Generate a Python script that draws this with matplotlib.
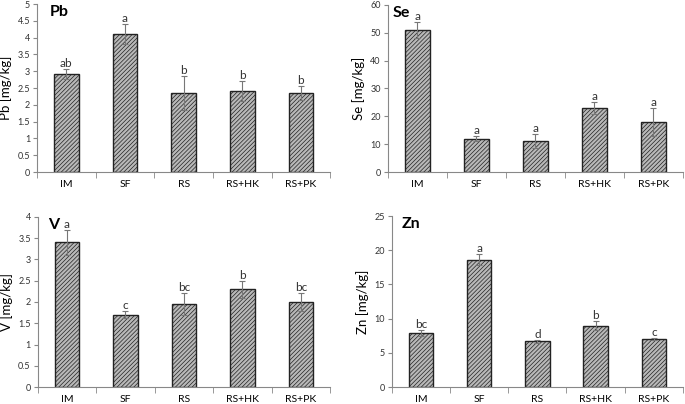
import numpy as np
import matplotlib.pyplot as plt

plt.rcParams['font.family'] = ['Lato', 'DejaVu Sans']
plt.rcParams['hatch.color'] = '#3a3a3a'
plt.rcParams['hatch.linewidth'] = 0.5

groups = ['IM', 'SF', 'RS', 'RS+HK', 'RS+PK']

pb_mean = [2.92, 4.10, 2.35, 2.42, 2.35]
pb_err = [0.15, 0.30, 0.50, 0.30, 0.20]
pb_let = ['ab', 'a', 'b', 'b', 'b']

se_mean = [51.0, 12.0, 11.3, 23.0, 18.0]
se_err = [3.0, 1.0, 2.5, 2.0, 5.0]
se_let = ['a', 'a', 'a', 'a', 'a']

v_mean = [3.40, 1.70, 1.95, 2.30, 2.00]
v_err = [0.30, 0.08, 0.25, 0.20, 0.22]
v_let = ['a', 'c', 'bc', 'b', 'bc']

zn_mean = [7.9, 18.6, 6.7, 9.0, 7.0]
zn_err = [0.4, 0.8, 0.2, 0.6, 0.1]
zn_let = ['bc', 'a', 'd', 'b', 'c']

panels = [
    ('Pb', pb_mean, pb_err, pb_let, 5, 0.5, [0.054, 0.574, 0.428, 0.416], 0.045),
    ('Se', se_mean, se_err, se_let, 60, 10, [0.566, 0.574, 0.431, 0.414], 0.018),
    ('V', v_mean, v_err, v_let, 4, 0.5, [0.055, 0.042, 0.427, 0.421], 0.035),
    ('Zn', zn_mean, zn_err, zn_let, 25, 5, [0.572, 0.042, 0.425, 0.423], 0.035),
]


def plotPanel(fig, name, mean, err, letters, ymax, step, rect, tx):
    ax = fig.add_axes(rect)
    x = np.arange(len(groups))
    ax.bar(x, mean, width=0.42, color='#b8b8b8', edgecolor='#222222',
           linewidth=1.0, hatch='////////', zorder=2)
    ax.errorbar(x, mean, yerr=err, fmt='none', ecolor='#777777',
                elinewidth=0.8, capsize=2, capthick=0.8, zorder=3)
    for xi, m, e, l in zip(x, mean, err, letters):
        ax.text(xi, m + e, l, ha='center', va='bottom', fontsize=8.5,
                color='#333333')
    ax.set_xlim(-0.5, len(groups) - 0.5)
    ax.set_ylim(0, ymax)
    ticks = np.arange(0, ymax + step / 2, step)
    ax.set_yticks(ticks)
    ax.set_yticklabels(['%g' % t for t in ticks], fontsize=6.5, color='#333333')
    ax.set_xticks(x)
    ax.set_xticklabels(groups, fontsize=7.5)
    ax.set_xticks(np.arange(-0.5, len(groups)), minor=True)
    ax.tick_params(axis='x', which='major', length=0, pad=6)
    ax.tick_params(axis='x', which='minor', length=4, color='#888888')
    ax.tick_params(axis='y', length=3, color='#888888', pad=2)
    ax.spines['top'].set_visible(False)
    ax.spines['right'].set_visible(False)
    ax.spines['left'].set_color('#888888')
    ax.spines['bottom'].set_color('#888888')
    ax.set_ylabel(name + ' [mg/kg]', fontsize=9.5, labelpad=4)
    ax.text(tx, 0.995, name, transform=ax.transAxes, fontsize=11.5,
            fontweight='bold', va='top', ha='left')
    return ax


fig = plt.figure()
fig.set_figwidth(6.85)
fig.set_figheight(4.04)
for name, mean, err, letters, ymax, step, rect, tx in panels:
    plotPanel(fig, name, mean, err, letters, ymax, step, rect, tx)

fig.savefig('out.png', dpi=100)
plt.close()
